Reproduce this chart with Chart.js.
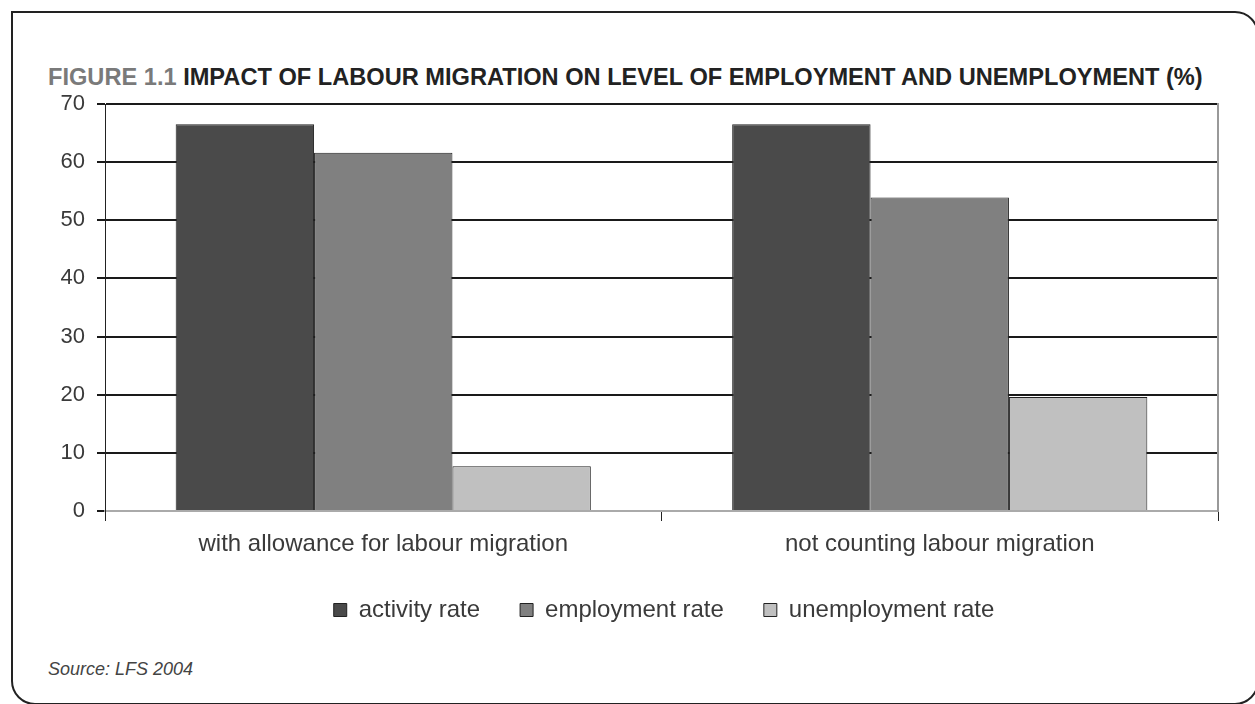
<!DOCTYPE html>
<html>
<head>
<meta charset="utf-8">
<script src="https://cdn.jsdelivr.net/npm/chart.js@4/dist/chart.umd.min.js"></script>
<style>
  html, body { margin: 0; padding: 0; background: #fff; }
  body { width: 1255px; height: 704px; position: relative; overflow: hidden; font-family: "Liberation Sans", Arial, sans-serif; }
  #frame { position: absolute; left: 11px; top: 11px; width: 1248px; height: 694px; box-sizing: border-box;
           border: 2.5px solid #222; border-radius: 0 24px 24px 24px; }
  #title { position: absolute; left: 48px; top: 64px; white-space: nowrap; font-family: "Liberation Sans", Arial, sans-serif;
           font-weight: 700; font-size: 20px; color: #222; line-height: 26px; }
  #title .fig { color: #7a7a7a; }
  #source { position: absolute; left: 48px; top: 658px; font-style: italic; font-size: 18px; line-height: 22px; color: #444; }
  #wrap { position: absolute; left: 0; top: 0; width: 1255px; height: 704px; }
</style>
</head>
<body>
<div id="frame"></div>
<div id="title"><span class="fig">FIGURE 1.1</span> IMPACT OF LABOUR MIGRATION ON LEVEL OF EMPLOYMENT AND UNEMPLOYMENT (%)</div>
<div id="source">Source: LFS 2004</div>
<div id="wrap"><canvas id="c" width="1255" height="704"></canvas></div>
<script>
const categories = ["with allowance for labour migration", "not counting labour migration"];
const seriesNames = ["activity rate", "employment rate", "unemployment rate"];
const activityRate = [66.5, 66.5];
const employmentRate = [61.6, 53.9];
const unemploymentRate = [7.7, 19.6];
const yTicks = [0, 10, 20, 30, 40, 50, 60, 70];

// fit title width
(function(){
  const t = document.getElementById('title');
  const target = 1155;
  const w = t.getBoundingClientRect().width;
  t.style.fontSize = (20 * target / w).toFixed(2) + 'px';
})();

const colors = ['#4a4a4a', '#808080', '#c0c0c0'];
const labelFont = { family: "'Liberation Sans', Arial, sans-serif", size: 24 };
const yFont = { family: "'Liberation Sans', Arial, sans-serif", size: 22 };
const LEGEND_SHIFT_Y = 9;
const LEGEND_SHIFT_X = 40;

const shiftLegend = {
  id: 'shiftLegend',
  afterLayout(chart) {
    const l = chart.legend;
    if (l) {
      l.top -= LEGEND_SHIFT_Y; l.bottom -= LEGEND_SHIFT_Y;
      l.left += LEGEND_SHIFT_X; l.right += LEGEND_SHIFT_X;
    }
  }
};

new Chart(document.getElementById('c'), {
  type: 'bar',
  data: {
    labels: categories,
    datasets: [activityRate, employmentRate, unemploymentRate].map((d, i) => ({
      label: seriesNames[i],
      data: d,
      backgroundColor: colors[i],
      borderColor: '#222',
      borderWidth: 1,
      categoryPercentage: 0.746,
      barPercentage: 1.0
    }))
  },
  plugins: [shiftLegend],
  options: {
    responsive: false,
    animation: false,
    devicePixelRatio: 1,
    layout: { padding: { left: 30, right: 37, top: 104, bottom: 63 } },
    plugins: {
      title: { display: false },
      tooltip: { enabled: false },
      legend: {
        position: 'bottom',
        labels: {
          color: '#3a3a3a',
          font: labelFont,
          boxWidth: 13,
          boxHeight: 13,
          padding: 40,
          generateLabels: (chart) => chart.data.datasets.map((ds, i) => ({
            text: ds.label, fillStyle: ds.backgroundColor, strokeStyle: '#222', lineWidth: 1,
            hidden: false, datasetIndex: i, fontColor: '#3a3a3a'
          }))
        }
      }
    },
    scales: {
      x: {
        offset: true,
        grid: { display: true, offset: true, drawOnChartArea: false, drawTicks: true, tickLength: 10, color: '#222', lineWidth: 1 },
        border: { display: true, color: '#aaa', width: 2 },
        ticks: { color: '#3a3a3a', font: labelFont, padding: 9, maxRotation: 0 },
        afterFit: (s) => { s.height = 56; }
      },
      y: {
        min: 0, max: 70,
        afterBuildTicks: (s) => { s.ticks = yTicks.map(v => ({ value: v })); },
        grid: {
          color: (ctx) => ctx.tick && ctx.tick.value === 0 ? 'rgba(0,0,0,0)' : '#1a1a1a',
          lineWidth: 2, drawTicks: true, tickLength: 8, tickColor: '#1a1a1a'
        },
        border: { display: true, color: '#222', width: 1 },
        ticks: { color: '#3a3a3a', font: yFont, padding: 12 },
        afterFit: (s) => { s.width = 75; }
      },
      y2: {
        position: 'right',
        min: 0, max: 70,
        grid: { drawOnChartArea: false, drawTicks: false },
        border: { display: true, color: '#999', width: 2 },
        ticks: { display: false },
        afterFit: (s) => { s.width = 0; }
      }
    }
  }
});
</script>
</body>
</html>
